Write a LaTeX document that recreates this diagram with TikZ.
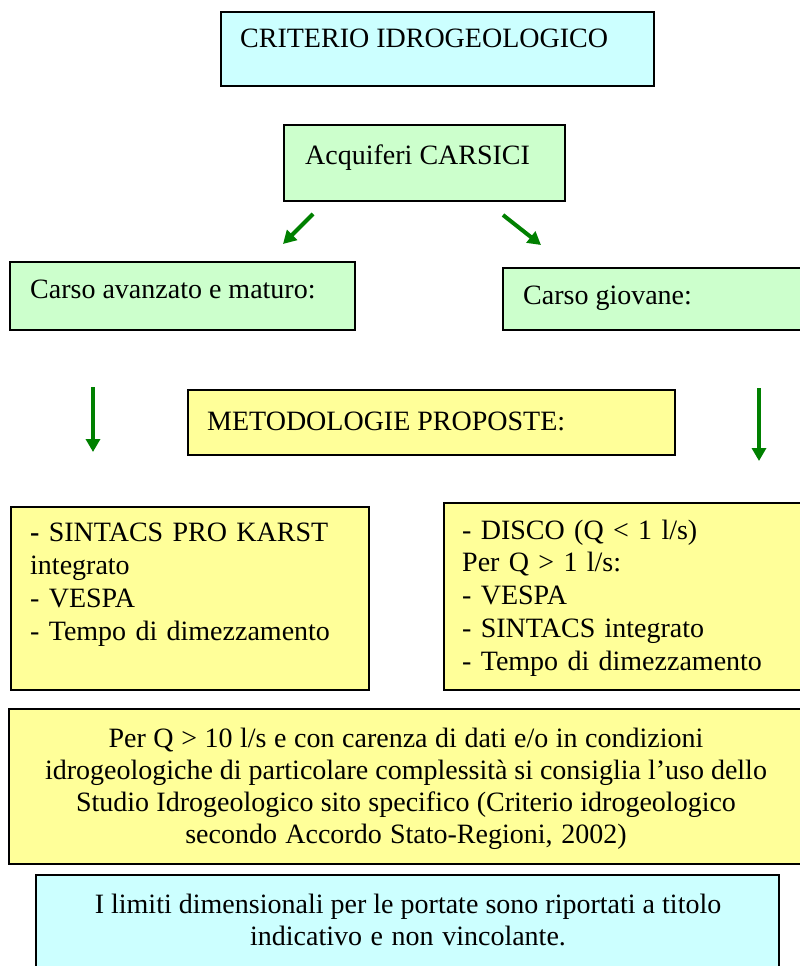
\documentclass[tikz,border=0pt]{standalone}
\usepackage{fontspec}
\setmainfont{Liberation Serif}
\usetikzlibrary{arrows.meta}
\definecolor{paleCyan}{HTML}{CCFFFF}
\definecolor{paleGreen}{HTML}{CCFFCC}
\definecolor{paleYellow}{HTML}{FFFF99}
\definecolor{arrowGreen}{HTML}{008000}
% fixed word spacing for the centred paragraphs
\newcommand\tightwords{\spaceskip=0.235em plus 0.02em\relax}
\begin{document}
\begin{tikzpicture}[x=1pt,y=-1pt,
  box/.style={draw=black, line width=1.6pt, inner sep=0pt, outer sep=0pt, anchor=north west},
  boxtext/.style={inner sep=0pt, font=\fontsize{28}{33}\selectfont, anchor=base west},
  listtext/.style={boxtext, text width=#1, align=left},
  centertext/.style={inner sep=0pt, font=\fontsize{28}{32}\selectfont,
    anchor=base, text width=#1, align=center},
  flow/.style={draw=arrowGreen, line width=4pt, -{Triangle[length=13pt,width=14pt]}}]
\useasboundingbox (0,0) rectangle (800,966);
\clip (0,0) rectangle (800,966);
\fill[white] (0,0) rectangle (800,966);

% boxes
\node[box, fill=paleCyan,   minimum width=433, minimum height=74]  (crit)  at (221,12)  {};
\node[box, fill=paleGreen,  minimum width=281, minimum height=76]  (acq)   at (284,125) {};
\node[box, fill=paleGreen,  minimum width=345, minimum height=68]  (adv)   at (10,262)  {};
\node[box, fill=paleGreen,  minimum width=320, minimum height=62]  (young) at (503,268) {};
\node[box, fill=paleYellow, minimum width=487, minimum height=65]  (meth)  at (188,390) {};
\node[box, fill=paleYellow, minimum width=358, minimum height=183] (listL) at (11,507)  {};
\node[box, fill=paleYellow, minimum width=380, minimum height=187] (listR) at (444,503) {};
\node[box, fill=paleYellow, minimum width=820, minimum height=155] (note)  at (9,709)   {};
\node[box, fill=paleCyan,   minimum width=743, minimum height=120] (limit) at (36,875)  {};

% texts
\node[boxtext] (critT)  at (240,48)  {CRITERIO IDROGEOLOGICO};
\node[boxtext] (acqT)   at (305,164) {Acquiferi CARSICI};
\node[boxtext] (advT)   at (30,298)  {Carso avanzato e maturo:};
\node[boxtext] (youngT) at (523,304) {Carso giovane:};
\node[boxtext] (methT)  at (207,430) {METODOLOGIE PROPOSTE:};
\node[listtext=335] (listLT) at (30,541)
  {\textbf{-} SINTACS PRO KARST\\integrato\\- VESPA\\- Tempo di dimezzamento};
\node[listtext=340, font=\fontsize{28}{32.75}\selectfont] (listRT) at (462,539)
  {- DISCO (Q < 1 l/s)\\Per Q > 1 l/s:\\- VESPA\\- SINTACS integrato\\- Tempo di dimezzamento};
\node[centertext=790] (noteT) at (406,747)
  {\tightwords Per Q > 10 l/s e con carenza di dati e/o in condizioni\\idrogeologiche di particolare complessità si consiglia l’uso dello\\Studio Idrogeologico sito specifico (Criterio idrogeologico\\secondo Accordo Stato-Regioni, 2002)};
\node[centertext=720] (limitT) at (408,913)
  {\tightwords I limiti dimensionali per le portate sono riportati a titolo\\indicativo e non vincolante.};

% arrows
\coordinate (aLs) at (313,214); \coordinate (aLe) at (283,244);
\coordinate (aRs) at (503,215); \coordinate (aRe) at (541,245);
\coordinate (dLs) at (93,387);  \coordinate (dLe) at (93,452);
\coordinate (dRs) at (759,388); \coordinate (dRe) at (759,461);
\draw[flow] (aLs) -- (aLe);
\draw[flow] (aRs) -- (aRe);
\draw[flow] (dLs) -- (dLe);
\draw[flow] (dRs) -- (dRe);
\end{tikzpicture}
\end{document}
